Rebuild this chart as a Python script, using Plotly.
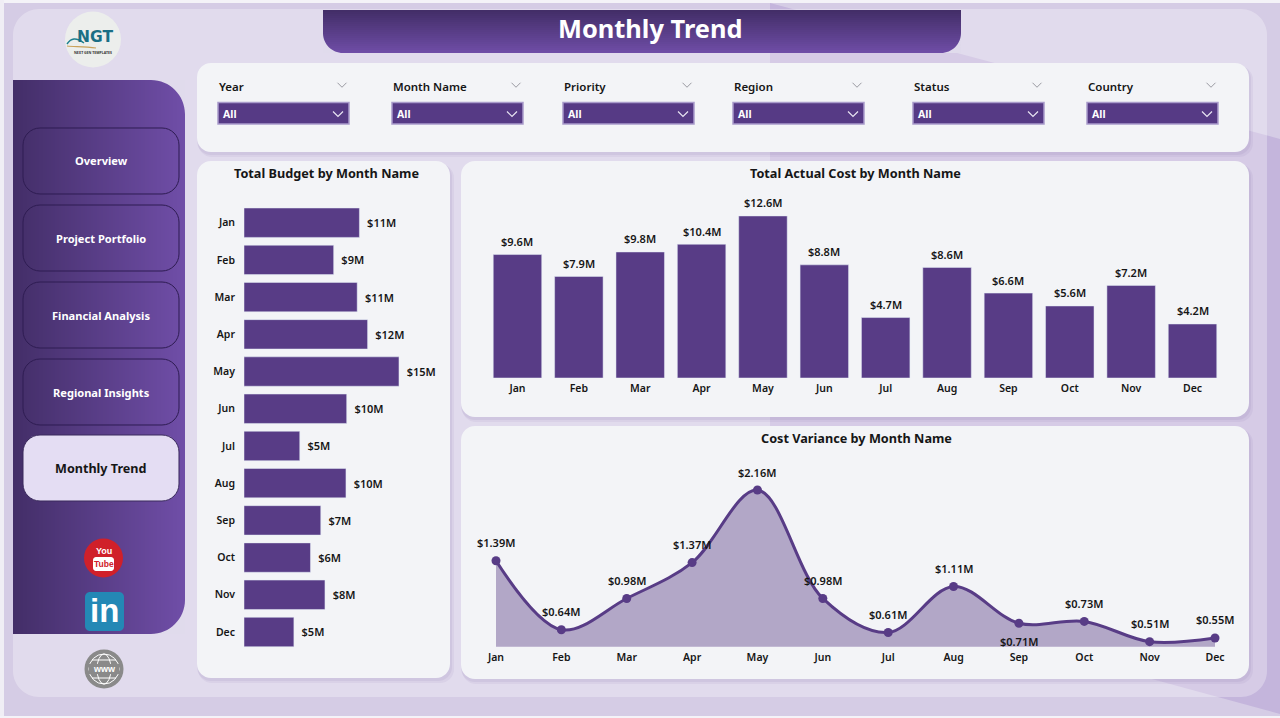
import plotly.graph_objects as go

W = 1280
H = 718

# Chart data
months = ["Jan", "Feb", "Mar", "Apr", "May", "Jun", "Jul", "Aug", "Sep", "Oct", "Nov", "Dec"]
total_budget = [10.99, 8.54, 10.78, 11.77, 14.76, 9.78, 5.31, 9.71, 7.31, 6.33, 7.71, 4.75]
actual_cost = [9.6, 7.9, 9.8, 10.4, 12.6, 8.8, 4.7, 8.6, 6.6, 5.6, 7.2, 4.2]
cost_variance = [1.39, 0.64, 0.98, 1.37, 2.16, 0.98, 0.61, 1.11, 0.71, 0.73, 0.51, 0.55]

# Page text
nav_items = ["Overview", "Project Portfolio", "Financial Analysis", "Regional Insights"]
filter_names = ["Year", "Month Name", "Priority", "Region", "Status", "Country"]

FONT = "Noto Sans"
PURPLE = "#583C86"
INK = "#161616"
PANEL = "#E0DBEC"
CARD = "#F3F4F7"


def px(x):
    return x / W


def py(y):
    return 1 - y / H


def mix(c0, c1, t):
    """Blend two (r, g, b) colors"""
    return "rgb(%d,%d,%d)" % tuple(round(a + (b - a) * t) for a, b in zip(c0, c1))


def p(x, y):
    return "%.5f,%.5f" % (px(x), py(y))


def round_rect(x0, y0, x1, y1, r):
    """SVG path for a rounded box"""
    k = 0.45
    return (
        "M" + p(x0 + r, y0) + " L" + p(x1 - r, y0)
        + " C" + p(x1 - r * k, y0) + " " + p(x1, y0 + r * k) + " " + p(x1, y0 + r)
        + " L" + p(x1, y1 - r)
        + " C" + p(x1, y1 - r * k) + " " + p(x1 - r * k, y1) + " " + p(x1 - r, y1)
        + " L" + p(x0 + r, y1)
        + " C" + p(x0 + r * k, y1) + " " + p(x0, y1 - r * k) + " " + p(x0, y1 - r)
        + " L" + p(x0, y0 + r)
        + " C" + p(x0, y0 + r * k) + " " + p(x0 + r * k, y0) + " " + p(x0 + r, y0) + " Z"
    )


def corner_mask(cx, cy, r, dx, dy):
    """Paint the outside of a rounded corner with the panel color"""
    k = 0.45
    return (
        "M" + p(cx, cy) + " L" + p(cx - dx * r, cy)
        + " C" + p(cx - dx * r * k, cy) + " " + p(cx, cy - dy * r * k) + " " + p(cx, cy - dy * r)
        + " Z"
    )


shapes = []
notes = []


def add_path(path, fill=None, line=None, width=0):
    shapes.append(dict(type="path", path=path, xref="paper", yref="paper", layer="below",
                       fillcolor=fill or "rgba(0,0,0,0)",
                       line=dict(color=line or "rgba(0,0,0,0)", width=width)))


def add_rect(x0, y0, x1, y1, fill):
    shapes.append(dict(type="rect", xref="paper", yref="paper", layer="below",
                       x0=px(x0), x1=px(x1), y0=py(y0), y1=py(y1),
                       fillcolor=fill, line=dict(width=0)))


def add_oval(cx, cy, rx, ry, fill, line=None, width=0):
    shapes.append(dict(type="circle", xref="paper", yref="paper", layer="below",
                       x0=px(cx - rx), x1=px(cx + rx), y0=py(cy + ry), y1=py(cy - ry),
                       fillcolor=fill, line=dict(color=line or "rgba(0,0,0,0)", width=width)))


def add_chevron(cx, cy, size, color, width=1):
    add_path("M" + p(cx - size, cy - size / 2) + " L" + p(cx, cy + size / 2)
             + " L" + p(cx + size, cy - size / 2), line=color, width=width)


def add_text(x, y, text, size, color=INK, weight=700, anchor="center", family=FONT):
    notes.append(dict(x=px(x), y=py(y), xref="paper", yref="paper", text=text, showarrow=False,
                      xanchor=anchor, yanchor="middle",
                      font=dict(family=family, size=size, color=color, weight=weight)))


def add_card(x0, y0, x1, y1, r=14):
    # Two faint offset layers stand in for a soft shadow
    add_path(round_rect(x0 + 1, y0 + 3, x1 + 4, y1 + 5, r), fill="rgba(110,90,150,0.07)")
    add_path(round_rect(x0, y0 + 2, x1 + 2, y1 + 3, r), fill="rgba(110,90,150,0.09)")
    add_path(round_rect(x0, y0, x1, y1, r), fill=CARD)


# Page background with the darker diagonal band
add_rect(0, 0, W, H, "#D5CCE5")
add_path("M" + p(770, 3) + " L" + p(1280, 139) + " L" + p(1280, 714) + " L" + p(770, 575) + " Z",
         fill="#C4B5DC")
add_rect(0, 0, W, 3, "#F4F3F8")
add_rect(0, 0, 4, H, "#F0EEF5")
add_rect(0, 716, W, H, "#F4F3F8")
add_path(round_rect(13, 9, 1267, 697, 26), fill="rgba(255,255,255,0.30)")

# Sidebar gradient, left to right
dark = (67, 46, 104)
light = (112, 78, 168)
for x in range(13, 185, 2):
    add_rect(x, 80, min(x + 3, 185), 634, mix(dark, light, (x - 13) / 172))
add_path(corner_mask(185, 80, 34, 1, -1), fill=PANEL)
add_path(corner_mask(185, 634, 34, 1, 1), fill=PANEL)

# Sidebar buttons
for i, item in enumerate(nav_items):
    top = 128 + i * 77
    add_path(round_rect(23, top, 179, top + 66, 17), line="#2E1C52", width=1)
    add_text(101, top + 33, item, 11.1, color="white")
add_path(round_rect(23, 435, 179, 501, 17), fill="#E4DDF3", line="#3A2A5C", width=1)
add_text(101, 468.5, "Monthly Trend", 12.6)

# Title banner gradient, top to bottom
for y in range(10, 53, 2):
    add_rect(323, y, 961, min(y + 3, 53), mix(dark, light, (y - 10) / 43))
add_path(corner_mask(323, 53, 20, -1, 1), fill=PANEL)
add_path(corner_mask(961, 53, 20, 1, 1), fill=PANEL)
add_text(650, 28, "Monthly Trend", 25.4, color="white")

# Logo
add_oval(93, 39.5, 28, 28, "#ECEEEC")
add_path("M" + p(67, 46) + " C" + p(74, 47) + " " + p(84, 46) + " " + p(96, 48), line="#C9A15A", width=1.2)
add_path("M" + p(67, 44) + " C" + p(71, 38) + " " + p(76, 37) + " " + p(84, 43), line="#1B7F8E", width=1.4)
add_text(95, 36.5, "NGT", 15.5, color="#1A6E85", weight=800, family="DejaVu Sans")
add_text(93, 52, "NEXT GEN TEMPLATES", 3.5, color="#333333")

# Social icons
add_oval(103.5, 558, 19.5, 19.5, "#D0202A")
add_text(103.5, 550.5, "You", 9, color="white", family="Liberation Sans")
add_path(round_rect(93, 557, 114, 571, 3), fill="white")
add_text(103.5, 564, "Tube", 8.5, color="#D0202A", family="Liberation Sans")
add_path(round_rect(85, 592, 124, 631, 5), fill="#2488B5")
add_text(104.5, 610, "in", 33, color="white", family="Liberation Sans")
add_oval(104, 669, 19.5, 19.5, "#8A8A8A")
add_oval(104, 669, 15, 15, "rgba(0,0,0,0)", line="white", width=1)
add_oval(104, 669, 7, 15, "rgba(0,0,0,0)", line="white", width=1)
add_path("M" + p(92, 660) + " L" + p(116, 660) + " M" + p(92, 678) + " L" + p(116, 678), line="white", width=1)
add_rect(89, 664, 119, 674, "#8A8A8A")
add_text(104, 669, "www", 9, color="white", family="Liberation Sans")

# Filter bar
add_card(197, 63, 1249, 152)
filter_left = [218, 392, 563, 733, 913, 1087]
for name, left in zip(filter_names, filter_left):
    add_text(left - 1, 87, name, 11.5, anchor="left", weight=600)
    add_chevron(left + 124, 85, 4.5, "#9A9AA2")
    add_path(round_rect(left, 102.5, left + 131, 124, 0), fill="#563A85", line="#A99BCB", width=1.5)
    add_text(left + 3, 114, "All", 10.5, color="white", anchor="left")
    add_chevron(left + 120, 114, 5, "#E8E4F2", width=1.2)

# Chart cards and titles
add_card(197, 161, 450, 678)
add_card(461, 161, 1249, 417)
add_card(461, 426, 1249, 679)
add_text(326.5, 172.5, "Total Budget by Month Name", 12.7)
add_text(855.5, 172.5, "Total Actual Cost by Month Name", 12.7)
add_text(856, 437.5, "Cost Variance by Month Name", 12.7)

fig = go.Figure()

# Total budget bars
fig.add_trace(go.Bar(y=months, x=total_budget, orientation="h", marker_color=PURPLE,
                     texttemplate="\u00a0\u2009$%{x:.0f}M", textposition="outside", cliponaxis=False,
                     textfont=dict(family=FONT, size=11, color=INK, weight=600),
                     xaxis="x", yaxis="y"))

# Total actual cost bars
fig.add_trace(go.Bar(x=months, y=actual_cost, marker_color=PURPLE,
                     xaxis="x2", yaxis="y2"))

# Cost variance area
fig.add_trace(go.Scatter(x=months, y=cost_variance, mode="lines+markers", fill="tozeroy",
                         fillcolor="rgba(88,60,134,0.42)", cliponaxis=False,
                         line=dict(color=PURPLE, width=3, shape="spline", smoothing=1.0),
                         marker=dict(color=PURPLE, size=9),
                         xaxis="x3", yaxis="y3"))

# Value labels, kept as annotations for the exact gap to the marks
label_font = dict(family=FONT, size=11, color=INK, weight=600)
for month, value in zip(months, actual_cost):
    notes.append(dict(x=month, y=value, xref="x2", yref="y2", text="$%.1fM" % value,
                      showarrow=False, yshift=13, font=label_font))
for month, value in zip(months, cost_variance):
    notes.append(dict(x=month, y=value, xref="x3", yref="y3", text="$%.2fM" % value,
                      showarrow=False, yshift=18 if month != "Sep" else -18, font=label_font))

tick_font = dict(family=FONT, size=10.5, color=INK, weight=600)
hidden = dict(visible=False, showgrid=False, zeroline=False)

fig.update_layout(
    width=W,
    height=H,
    margin=dict(l=0, r=0, t=0, b=0),
    paper_bgcolor="#D5CCE5",
    plot_bgcolor="rgba(0,0,0,0)",
    showlegend=False,
    bargap=0.21,
    shapes=shapes,
    annotations=notes,
    xaxis=dict(domain=[px(244), px(440)], range=[0, 196 / 10.5], anchor="y", **hidden),
    yaxis=dict(domain=[py(650.6), py(204.1)], autorange="reversed", anchor="x", showgrid=False,
               zeroline=False, showline=False, ticks="", ticklabelstandoff=8, tickfont=tick_font),
    xaxis2=dict(domain=[px(486.8), px(1223.2)], anchor="y2", showgrid=False, zeroline=False,
                showline=False, ticks="", ticklabelstandoff=2, tickfont=tick_font),
    yaxis2=dict(domain=[py(378), py(190)], range=[0, 188 / 12.86], anchor="x2", **hidden),
    xaxis3=dict(domain=[px(496), px(1215)], range=[0, 11], anchor="y3", showgrid=False, zeroline=False,
                showline=False, ticks="", ticklabelstandoff=3, tickfont=tick_font),
    yaxis3=dict(domain=[py(646.7), py(470)], range=[0.455, 2.378], anchor="x3", **hidden),
)
fig.update_xaxes(automargin=False)
fig.update_yaxes(automargin=False)

fig.write_html("out.html", config={"displayModeBar": False},
               post_script="document.body.style.margin='0';document.body.style.overflow='hidden';")
